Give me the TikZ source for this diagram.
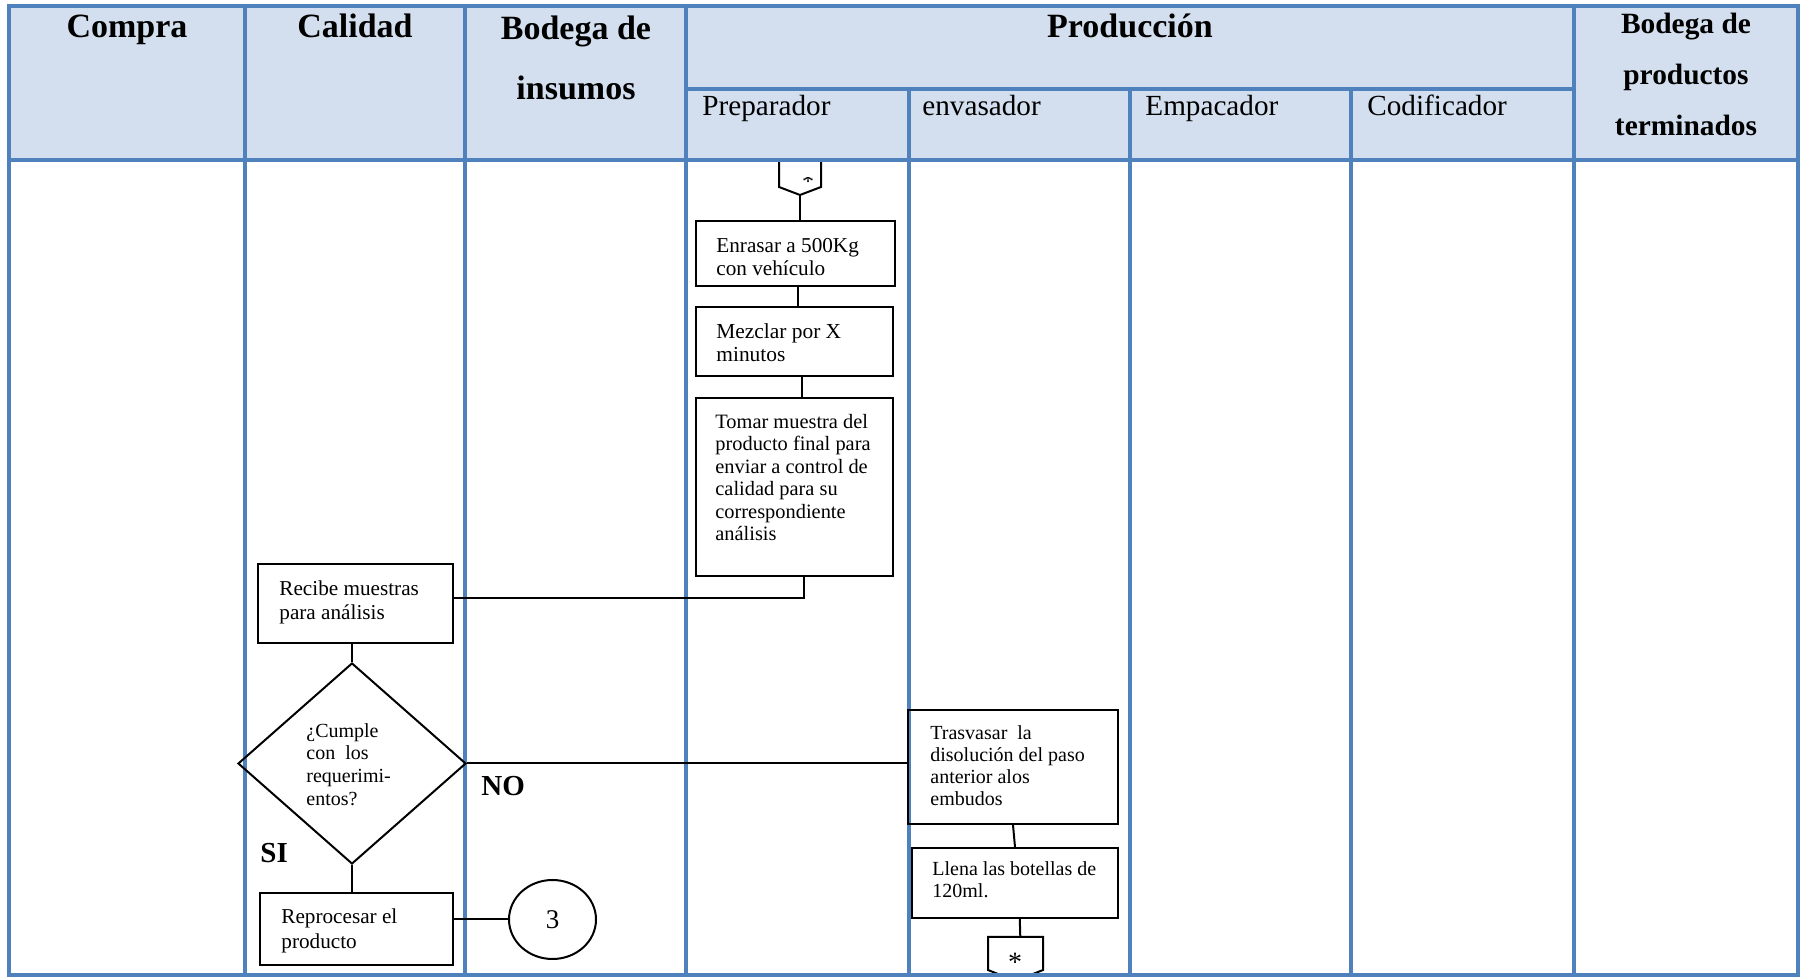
\documentclass[tikz,border=0pt]{standalone}
\usepackage{fontspec}
\setmainfont{Liberation Serif}
\usetikzlibrary{fit,calc,shapes.geometric}
\definecolor{laneblue}{RGB}{79,129,189}
\definecolor{headfill}{RGB}{211,223,238}
\begin{document}
\begin{tikzpicture}[x=0.5pt,y=-0.5pt,
  lane/.style={draw=laneblue,line width=1.6pt},
  box/.style={draw=black,line width=1pt,inner sep=0pt,rectangle},
  flow/.style={draw=black,line width=1pt},
  txt/.style 2 args={font=\fontsize{#1}{#2}\selectfont,align=left,inner sep=0pt,anchor=north west},
  head/.style={font=\bfseries\fontsize{17}{30}\selectfont,inner sep=0pt,align=center},
  subhead/.style={font=\fontsize{14.6}{16}\selectfont,inner sep=0pt,anchor=base west},
  tag/.style={font=\bfseries\fontsize{14.5}{16}\selectfont,inner sep=0pt,anchor=base west},
  holder/.style 2 args={inner sep=0pt,outer sep=0pt,minimum width=#1,minimum height=#2},
]
\useasboundingbox (0,0) rectangle (1806,977);

% swimlane table
\fill[headfill] (9,6) rectangle (1798,160);
\draw[lane] (9,6) rectangle (1798,975);
\draw[lane] (686,89) -- (1574,89);
\foreach \x in {245,465,686,1574} \draw[lane] (\x,6) -- (\x,975);
\foreach \x in {909,1130,1351} \draw[lane] (\x,89) -- (\x,975);

% lane titles
\node[head,anchor=base] (hCompra) at (127,38) {Compra};
\node[head,anchor=base] (hCalidad) at (355,38) {Calidad};
\node[head,anchor=north,font=\bfseries\fontsize{17}{30}\selectfont] (hInsumos) at (576,16) {Bodega de\\insumos};
\node[head,anchor=base] (hProd) at (1130,38) {Producción};
\node[head,anchor=north,font=\bfseries\fontsize{14.7}{25.5}\selectfont] (hTerm) at (1686,13) {Bodega de\\productos\\terminados};
\node[subhead] (sPrep) at (702,116) {Preparador};
\node[subhead] (sEnv) at (922,116) {envasador};
\node[subhead] (sEmp) at (1145,116) {Empacador};
\node[subhead] (sCod) at (1367,116) {Codificador};

% off-page connector at the top of Preparador
\node[holder={21pt}{17.5pt}] (c1) at (800,177.5) {};
\draw[flow,line join=miter] (c1.north west) -- ($(c1.south west)+(0,-8)$) -- (c1.south)
  -- ($(c1.south east)+(0,-8)$) -- (c1.north east) -- cycle;
\begin{scope}
  \clip (796,178) rectangle (820,192);
  \node[inner sep=0pt,font=\fontsize{12}{12}\selectfont] (c1mark) at (808,182) {*};
\end{scope}

% process boxes
\node[box,fit={(696,221) (895,286)}] (b1) {};
\node[txt={10.6}{11.5}] (t1) at (716,238) {Enrasar a 500Kg\\con vehículo};
\node[box,fit={(696,307) (893,376)}] (b2) {};
\node[txt={10.7}{11.5}] (t2) at (716,323) {Mezclar por X\\minutos};
\node[box,fit={(696,398) (893,576)}] (b3) {};
\node[txt={10.2}{11.2}] (t3) at (715,414) {Tomar muestra del\\producto final para\\enviar a control de\\calidad para su\\correspondiente\\análisis};

\node[box,fit={(258,564) (453,643)}] (rec) {};
\node[txt={10.6}{12.3}] (trec) at (279,580) {Recibe muestras\\para análisis};

\node[diamond,draw=black,line width=1pt,inner sep=0pt,minimum width=114pt,minimum height=100.5pt] (dia) at (352,763.5) {};
\node[txt={10}{11.3}] (tdia) at (306,723) {¿Cumple\\con \ los\\requerimi-\\entos?};
\node[tag] (lno) at (481,796) {NO};
\node[tag] (lsi) at (260,863) {SI};

\node[box,fit={(260,893) (453,965)}] (rep) {};
\node[txt={10.6}{12.6}] (trep) at (281,908) {Reprocesar el\\producto};
\node[ellipse,draw=black,line width=1pt,inner sep=0pt,minimum width=43.5pt,minimum height=39.5pt,
  font=\fontsize{13.5}{14}\selectfont] (circ) at (552.5,919.5) {3};

\node[box,fit={(908,710) (1118,824)}] (tras) {};
\node[txt={10}{11}] (ttras) at (930,725) {Trasvasar \ la\\disolución del paso\\anterior alos\\embudos};
\node[box,fit={(912,848) (1118,918)}] (llena) {};
\node[txt={10}{11}] (tllena) at (932,861) {Llena las botellas de\\120ml.};

% off-page connector at the bottom of envasador
\node[holder={27.5pt}{22pt}] (c2) at (1015.5,959) {};
\draw[flow,line join=miter] (c2.north west) -- ($(c2.south west)+(0,-11)$) -- (c2.south)
  -- ($(c2.south east)+(0,-11)$) -- (c2.north east) -- cycle;
\node[inner sep=0pt,font=\fontsize{14}{14}\selectfont] (c2mark) at (1015,962) {*};

% connectors
\draw[flow] (c1.south) -- (c1.south |- b1.north);
\draw[flow] ([xshift=1.25pt]b1.south) -- ([xshift=1.75pt]b2.north);
\draw[flow] ([xshift=3.75pt]b2.south) -- ([xshift=3.75pt]b3.north);
\draw[flow] ([xshift=4.75pt]b3.south) |- ([yshift=2.75pt]rec.east);
\draw[flow] (rec.south -| dia.north) -- (dia.north);
\draw[flow] (dia.east) -- (dia.east -| tras.west);
\draw[flow] (dia.south) -- (dia.south |- rep.north);
\draw[flow] (rep.east |- circ.west) -- (circ.west);
\draw[flow] (tras.south) -- (llena.north);
\draw[flow] ([xshift=2.4pt]llena.south) -- ([xshift=2.4pt]c2.north);

% lane borders drawn over the connector shapes
\draw[lane] (9,160) -- (1798,160);
\draw[lane] (9,975) -- (1798,975);
\end{tikzpicture}
\end{document}
